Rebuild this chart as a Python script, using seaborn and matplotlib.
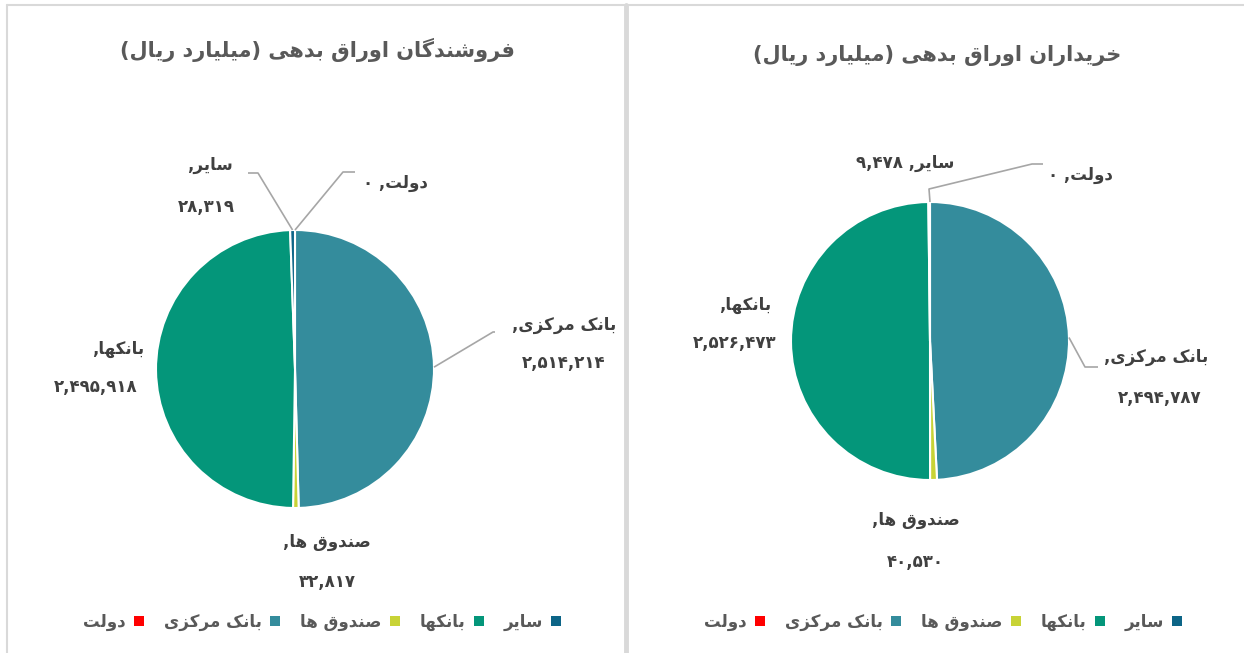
import re
import numpy as np
import seaborn as sns
import matplotlib
matplotlib.use("Agg")
import matplotlib.pyplot as plt
from matplotlib.patches import Patch
from matplotlib.lines import Line2D

# داده ها
categories = ["دولت", "بانک مرکزی", "صندوق ها", "بانکها", "سایر"]
sellers = [0, 2514214, 32817, 2495918, 28319]
buyers = [0, 2494787, 40530, 2526473, 9478]
colors = ["#FF0000", "#348C9C", "#C8D336", "#04967A", "#0D6587"]
title_sellers = "فروشندگان اوراق بدهی (میلیارد ریال)"
title_buyers = "خریداران اوراق بدهی (میلیارد ریال)"

# شکل حروف فارسی (isolated, final, initial, medial)
FORMS = {
    "ا": ("\uFE8D", "\uFE8E", None, None),
    "ب": ("\uFE8F", "\uFE90", "\uFE91", "\uFE92"),
    "ت": ("\uFE95", "\uFE96", "\uFE97", "\uFE98"),
    "خ": ("\uFEA5", "\uFEA6", "\uFEA7", "\uFEA8"),
    "د": ("\uFEA9", "\uFEAA", None, None),
    "ر": ("\uFEAD", "\uFEAE", None, None),
    "ز": ("\uFEAF", "\uFEB0", None, None),
    "س": ("\uFEB1", "\uFEB2", "\uFEB3", "\uFEB4"),
    "ش": ("\uFEB5", "\uFEB6", "\uFEB7", "\uFEB8"),
    "ص": ("\uFEB9", "\uFEBA", "\uFEBB", "\uFEBC"),
    "ف": ("\uFED1", "\uFED2", "\uFED3", "\uFED4"),
    "ق": ("\uFED5", "\uFED6", "\uFED7", "\uFED8"),
    "ل": ("\uFEDD", "\uFEDE", "\uFEDF", "\uFEE0"),
    "م": ("\uFEE1", "\uFEE2", "\uFEE3", "\uFEE4"),
    "ن": ("\uFEE5", "\uFEE6", "\uFEE7", "\uFEE8"),
    "ه": ("\uFEE9", "\uFEEA", "\uFEEB", "\uFEEC"),
    "و": ("\uFEED", "\uFEEE", None, None),
    "ک": ("\uFB8E", "\uFB8F", "\uFB90", "\uFB91"),
    "گ": ("\uFB92", "\uFB93", "\uFB94", "\uFB95"),
    "ی": ("\uFBFC", "\uFBFD", "\uFBFE", "\uFBFF"),
}
DIGITS = str.maketrans("0123456789", "۰۱۲۳۴۵۶۷۸۹")


def fa(s):
    # شکل دادن حروف و راست به چپ کردن متن
    out = []
    for i, c in enumerate(s):
        if c not in FORMS:
            out.append(c)
            continue
        prev = s[i - 1] if i > 0 else None
        nxt = s[i + 1] if i + 1 < len(s) else None
        jp = prev in FORMS and FORMS[prev][2] is not None
        jn = nxt in FORMS and FORMS[c][2] is not None
        iso, fin, ini, med = FORMS[c]
        out.append(med if jp and jn else fin if jp else ini if jn else iso)
    vis = "".join(out)[::-1]
    vis = vis.translate(str.maketrans("()", ")("))
    vis = re.sub(r"[0-9۰-۹](?:[0-9۰-۹,]*[0-9۰-۹])?", lambda m: m.group(0)[::-1], vis)
    return vis


def num(v):
    return f"{v:,}".translate(DIGITS)


sns.set_theme(style="white")
plt.rcParams["font.family"] = ["DejaVu Sans"]

W, H = 1244, 653
R = 139
fig = plt.figure(figsize=(W / 100, H / 100), dpi=100)
fig.patch.set_facecolor("white")

# قاب ها
fig.add_artist(Line2D([7 / W, 7 / W], [0, 1 - 5 / H], color="#D9D9D9", lw=1.5))
fig.add_artist(Line2D([7 / W, 1], [1 - 5 / H, 1 - 5 / H], color="#D9D9D9", lw=1.5))
fig.add_artist(Line2D([626 / W, 626 / W], [0, 1 - 5 / H], color="#D9D9D9", lw=3.5))


def draw_pie(values, cx, cy, title, tx, ty, lab, leaders, legend_x):
    ax = fig.add_axes([(cx - 200) / W, (H - cy - 200) / H, 400 / W, 400 / H])
    wedges, _ = ax.pie(values, colors=colors, startangle=90, counterclock=False,
                       wedgeprops=dict(edgecolor="white", linewidth=1.5))
    L = 200 / R
    ax.set_xlim(-L, L)
    ax.set_ylim(-L, L)
    ax.set_aspect("equal")
    ax.axis("off")

    def d(x, y):
        return (x - cx) / R, (cy - y) / R

    # برچسب ها
    for txt, (x, y) in lab:
        ax.text(*d(x, y), txt, ha="center", va="center", fontsize=12,
                fontweight="bold", color="#404040")
    # خطوط راهنما
    for idx, pts in leaders.items():
        w = wedges[idx]
        a = np.deg2rad((w.theta1 + w.theta2) / 2)
        xs = [np.cos(a)] + [d(*p)[0] for p in pts]
        ys = [np.sin(a)] + [d(*p)[1] for p in pts]
        ax.plot(xs, ys, color="#A6A6A6", lw=1.2, solid_capstyle="butt")

    fig.text(tx / W, 1 - ty / H, fa(title), ha="center", va="center",
             fontsize=15, fontweight="bold", color="#595959")
    handles = [Patch(facecolor=c, edgecolor="none") for c in colors]
    fig.legend(handles, [fa(c) for c in categories], ncol=5, loc="center",
               bbox_to_anchor=(legend_x / W, 1 - 622 / H), frameon=False,
               markerfirst=False, handlelength=0.6, handleheight=0.6,
               handletextpad=0.5, columnspacing=1.2,
               prop=dict(size=12, weight="bold"), labelcolor="#595959")


s_lab = [
    (fa("سایر,"), (210, 165)), (num(sellers[4]), (206, 207)),
    (fa("دولت, " + num(sellers[0])), (395, 183)),
    (fa("بانک مرکزی,"), (564, 325)), (num(sellers[1]), (564, 363)),
    (fa("بانکها,"), (118, 349)), (num(sellers[3]), (96, 387)),
    (fa("صندوق ها,"), (327, 542)), (num(sellers[2]), (327, 582)),
]
s_lead = {4: [(258, 173), (248, 173)], 0: [(343, 172), (355, 172)],
          1: [(493, 332), (505, 332)]}
draw_pie(sellers, 295, 369, title_sellers, 317, 50, s_lab, s_lead, 322)

b_lab = [
    (fa("سایر, " + num(buyers[4])), (905, 163)),
    (fa("دولت, " + num(buyers[0])), (1080, 175)),
    (fa("بانکها,"), (745, 305)), (num(buyers[3]), (735, 343)),
    (fa("بانک مرکزی,"), (1156, 357)), (num(buyers[1]), (1160, 398)),
    (fa("صندوق ها,"), (916, 520)), (num(buyers[2]), (915, 562)),
]
b_lead = {0: [(929, 189), (1032, 164), (1043, 164)],
          1: [(1085, 367), (1098, 367)]}
draw_pie(buyers, 930, 341, title_buyers, 937, 55, b_lab, b_lead, 943)

fig.savefig("out.png", dpi=100)
